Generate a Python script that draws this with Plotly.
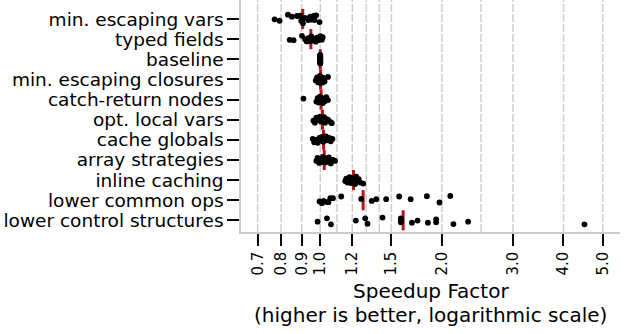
import math
import plotly.graph_objects as go

categories = [
    "min. escaping vars", "typed fields", "baseline", "min. escaping closures",
    "catch-return nodes", "opt. local vars", "cache globals", "array strategies",
    "inline caching", "lower common ops", "lower control structures",
]

# speedup factors per category
min_escaping_vars = [0.771, 0.793, 0.832, 0.851, 0.876, 0.892, 0.897, 0.906, 0.913,
                     0.927, 0.934, 0.945, 0.950, 0.963, 0.968, 0.977, 0.996]
typed_fields = [0.840, 0.859, 0.901, 0.918, 0.926, 0.934, 0.942, 0.950, 0.958, 0.966,
                0.975, 0.983, 0.992, 1.000, 1.009, 1.014]
baseline = [1.0] * 16
min_escaping_closures = [0.975, 0.982, 0.988, 0.992, 0.995, 0.998, 1.000, 1.002,
                         1.004, 1.007, 1.010, 1.013, 1.018, 1.025, 1.045]
catch_return_nodes = [0.909, 0.978, 0.985, 0.990, 0.995, 0.998, 1.002, 1.006, 1.010,
                      1.015, 1.020, 1.028, 1.035, 1.045]
opt_local_vars = [0.962, 0.970, 0.978, 0.990, 0.998, 1.005, 1.010, 1.016, 1.022,
                  1.028, 1.035, 1.045, 1.062, 1.068]
cache_globals = [0.958, 0.966, 0.975, 0.985, 0.995, 1.003, 1.010, 1.018, 1.026,
                 1.033, 1.042, 1.052, 1.062, 1.072]
array_strategies = [0.978, 0.985, 0.994, 1.000, 1.008, 1.015, 1.022, 1.030, 1.036,
                    1.042, 1.050, 1.062, 1.075, 1.088]
inline_caching = [1.153, 1.160, 1.168, 1.175, 1.182, 1.190, 1.196, 1.202, 1.208,
                  1.214, 1.220, 1.228, 1.236, 1.245, 1.258, 1.278]
lower_common_ops = [0.996, 1.010, 1.019, 1.041, 1.048, 1.059, 1.075, 1.127, 1.263,
                    1.341, 1.376, 1.456, 1.568, 1.674, 1.836, 1.973, 2.098]
lower_control_structures = [0.985, 1.039, 1.063, 1.225, 1.292, 1.309, 1.426, 1.583,
                            1.583, 1.583, 1.686, 1.741, 1.847, 1.936, 1.936, 2.136,
                            2.323, 4.508]

# vertical jitter of each dot (pixels, as seen in the picture)
jit_min_escaping_vars = [0.3, 1.7, -4.3, -2.3, -3, -3.3, 1.7, 4.3, -1, -0.7, 1, -2.3, 0.5, -3, 1, -3.7, 3]
jit_typed_fields = [0.7, 1, -3.3, 0, 2.3, -1, 2, -2.7, 1.5, -0.5, 2.5, -1.5, 1, -3, 0.5, -2]
jit_baseline = [-4.5, -3.9, -3.3, -2.7, -2.1, -1.5, -0.9, -0.3, 0.3, 0.9, 1.5, 2.1, 2.7, 3.3, 3.9, 4.3]
jit_min_escaping_closures = [1, -2, 3, -1, 2.5, -3.5, 0.5, 3.5, -2.5, 1.5, -0.5, 3, -1.5, 2, -2.5]
jit_catch_return_nodes = [-1, 2, -1.5, 3, 0, -3, 2.5, -2, 1, 3.5, -1, 1.5, -2.5, 0.5]
jit_opt_local_vars = [1, 3, -2, 0.5, -3, 2, -1, 1.5, -2.5, 3, -0.5, 0, 2.5, 3.5]
jit_cache_globals = [-1, 2.5, 0, 3, -2, 1, -3, 2, -1.5, -3.5, 0.5, -2, 1.5, -1]
jit_array_strategies = [1, -2, 3, -1, 2, -3, 0.5, 2.5, -1.5, 1.5, -2.5, 3.5, 0, 1]
jit_inline_caching = [1, -1.5, 2.5, 0, -3, 3, 1.5, -2, -0.5, 2, 4, -3.5, 0.5, -1, 2.5, 3.5]
jit_lower_common_ops = [1.3, 3, 0.7, 2, 2, -2, -2, -3.7, -1.3, 0.7, -1, -1, -3.7, -1, -4, 2.3, -4.3]
jit_lower_control_structures = [1.3, -2, 4, 0.3, -2, 3.3, -2.7, -2, 0, 2, 2.3, 0.3, 2.3, -1, 2, 3.7, 1.3, 4]

# geometric means (red markers)
geo_means = [0.905, 0.948, 1.0, 1.002, 1.005, 1.013, 1.019, 1.023, 1.209, 1.277, 1.604]

series = [min_escaping_vars, typed_fields, baseline, min_escaping_closures,
          catch_return_nodes, opt_local_vars, cache_globals, array_strategies,
          inline_caching, lower_common_ops, lower_control_structures]
jitters = [jit_min_escaping_vars, jit_typed_fields, jit_baseline, jit_min_escaping_closures,
           jit_catch_return_nodes, jit_opt_local_vars, jit_cache_globals,
           jit_array_strategies, jit_inline_caching, jit_lower_common_ops,
           jit_lower_control_structures]

tick_vals = [0.7, 0.8, 0.9, 1.0, 1.2, 1.5, 2.0, 3.0, 4.0, 5.0]
tick_text = ["0.7", "0.8", "0.9", "1.0", "1.2", "1.5", "2.0", "3.0", "4.0", "5.0"]
grid_vals = [0.7, 0.8, 0.9, 1.0, 1.1, 1.2, 1.3, 1.4, 1.5, 2.0, 2.5, 3.0, 4.0, 5.0]

ROW_PX = 20.1
FONT = "DejaVu Sans"

fig = go.Figure()

# red geometric-mean segments
mx, my = [], []
for i, m in enumerate(geo_means):
    mx += [m, m, None]
    my += [i - 0.5, i + 0.5, None]
fig.add_trace(go.Scatter(x=mx, y=my, mode="lines",
                         line=dict(color="#b8141a", width=3),
                         hoverinfo="skip", showlegend=False))

# points
px, py = [], []
for i, (vals, jit) in enumerate(zip(series, jitters)):
    for v, j in zip(vals, jit):
        px.append(v)
        py.append(i + j / ROW_PX)
fig.add_trace(go.Scatter(x=px, y=py, mode="markers",
                         marker=dict(color="black", size=5.8, line=dict(width=0)),
                         showlegend=False))

shapes = []
for g in grid_vals:
    shapes.append(dict(type="line", xref="x", yref="paper", x0=g, x1=g, y0=0, y1=1,
                       line=dict(color="#cfcfcf", width=1.5, dash="8px,2px"),
                       layer="below"))

fig.update_layout(
    width=625, height=334,
    margin=dict(l=241, r=5, t=0, b=102),
    paper_bgcolor="white", plot_bgcolor="white",
    shapes=shapes,
    font=dict(family=FONT, color="black"),
    xaxis=dict(type="log", automargin=False,
               range=[math.log10(0.6366), math.log10(5.52)],
               showgrid=False, zeroline=False,
               showline=True, linecolor="#cccccc", linewidth=1.5,
               ticks="outside", ticklen=12, tickwidth=1.5, tickcolor="black",
               tickvals=tick_vals, ticktext=tick_text, tickangle=-90,
               tickfont=dict(family=FONT, size=15, color="black")),
    yaxis=dict(range=[10.58, -0.945], automargin=False,
               tickvals=list(range(len(categories))), ticktext=categories,
               showgrid=False, zeroline=False,
               showline=True, linecolor="#cccccc", linewidth=1.5,
               ticks="outside", ticklen=12, tickwidth=1.5, tickcolor="black",
               tickfont=dict(family=FONT, size=18.5, color="black")),
    annotations=[
        dict(text="Speedup Factor", xref="paper", yref="paper", x=0.5, y=0,
             yanchor="middle", yshift=-59, showarrow=False,
             font=dict(family=FONT, size=20, color="black")),
        dict(text="(higher is better, logarithmic scale)", xref="paper", yref="paper",
             x=0.5, y=0, yanchor="middle", yshift=-83, showarrow=False,
             font=dict(family=FONT, size=20, color="black")),
    ],
)

fig.write_html("out.html", config={"displayModeBar": False},
               post_script="document.body.style.margin='0';")
